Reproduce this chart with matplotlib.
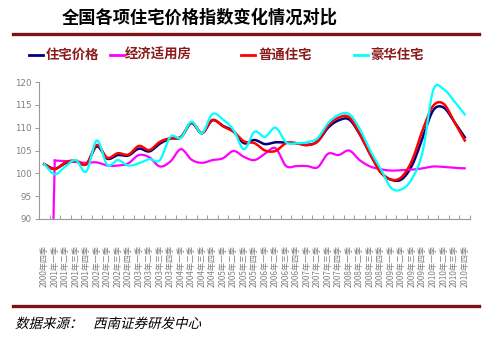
import numpy as np
import matplotlib
matplotlib.use("Agg")
import matplotlib.pyplot as plt
from matplotlib.lines import Line2D
from matplotlib.textpath import TextPath
from matplotlib.patches import PathPatch
from matplotlib.font_manager import FontProperties
from matplotlib.transforms import Affine2D, IdentityTransform

plt.rcParams['font.family'] = ['Noto Sans CJK SC', 'DejaVu Sans']

W, H = 499, 341

# 季度标签：2000年四季 ~ 2010年四季
quarters = ['2000年四季'] + ['%d年%s季' % (y, q) for y in range(2001, 2011) for q in '一二三四']

zhuzhai = [102.0, 101.0, 102.2, 102.6, 102.0, 105.9, 103.2, 104.0, 103.9, 105.4,
           104.8, 106.5, 107.6, 107.9, 111.0, 108.8, 111.6, 110.4, 109.2, 106.6,
           107.3, 106.4, 106.8, 106.7, 106.6, 106.2, 107.0, 110.0, 111.6, 111.8,
           108.6, 104.2, 100.3, 98.6, 98.7, 101.8, 107.8, 113.8, 114.4, 111.3,
           107.9]
jingji = [0.0, 102.8, 102.7, 102.5, 102.3, 102.4, 101.7, 101.7, 102.2, 104.0,
          103.5, 101.5, 102.6, 105.3, 103.0, 102.3, 102.9, 103.3, 104.9, 103.6,
          102.9, 104.3, 105.5, 101.6, 101.6, 101.6, 101.3, 104.3, 104.0, 105.0,
          102.9, 101.5, 100.9, 100.6, 100.7, 100.8, 101.1, 101.5, 101.4, 101.2,
          101.1]
putong = [102.0, 100.9, 102.4, 102.8, 102.0, 106.2, 103.4, 104.4, 104.1, 106.0,
          105.1, 106.9, 107.7, 108.0, 111.1, 108.8, 111.7, 110.3, 109.1, 107.0,
          106.6, 105.0, 104.9, 106.6, 106.6, 106.2, 107.0, 110.4, 112.2, 112.3,
          108.7, 104.2, 100.2, 98.6, 99.2, 102.9, 109.5, 114.8, 115.2, 111.3,
          107.2]
haohua = [102.0, 99.8, 101.5, 102.9, 100.4, 107.2, 101.8, 102.9, 101.7, 102.2,
          103.1, 102.9, 108.0, 107.8, 111.3, 108.8, 113.0, 111.8, 109.5, 105.3,
          109.1, 108.0, 110.0, 106.8, 106.6, 106.8, 107.7, 111.0, 112.8, 113.0,
          109.8, 105.0, 101.0, 96.8, 96.5, 98.9, 104.8, 118.2, 118.4, 115.8,
          112.9]

names = ['住宅价格', '经济适用房', '普通住宅', '豪华住宅']
colors = ['#000080', '#FF00FF', '#FF0000', '#00FFFF']
dark_red = '#7A1315'


def smooth(x0, y, n=16):
    # Catmull-Rom 平滑曲线
    y = np.asarray(y, float)
    p = np.concatenate([[2 * y[0] - y[1]], y, [2 * y[-1] - y[-2]]])
    t = np.linspace(0, 1, n, endpoint=False)
    h00 = 2 * t**3 - 3 * t**2 + 1
    h10 = t**3 - 2 * t**2 + t
    h01 = -2 * t**3 + 3 * t**2
    h11 = t**3 - t**2
    xs, ys = [], []
    for i in range(len(y) - 1):
        p0, p1, p2, p3 = p[i:i + 4]
        m1 = (p2 - p0) / 2
        m2 = (p3 - p1) / 2
        xs.append(x0 + i + t)
        ys.append(h00 * p1 + h10 * m1 + h01 * p2 + h11 * m2)
    xs.append([x0 + len(y) - 1])
    ys.append([y[-1]])
    return np.concatenate(xs), np.concatenate(ys)


def fx(x):
    return x / W


def fy(y):
    return 1 - y / H


fig = plt.figure(figsize=(W / 100, H / 100), dpi=100)
fig.patch.set_facecolor('white')

ax = fig.add_axes([fx(39), fy(219), fx(470) - fx(39), fy(82) - fy(219)])

# 住宅价格
xs, ys = smooth(0, zhuzhai)
ax.plot(xs, ys, color=colors[0], lw=1.8)
# 经济适用房：首个季度为0，单独画直线
ax.plot([0, 1], jingji[:2], color=colors[1], lw=1.6)
xs, ys = smooth(1, jingji[1:])
ax.plot(xs, ys, color=colors[1], lw=1.6)
# 普通住宅
xs, ys = smooth(0, putong)
ax.plot(xs, ys, color=colors[2], lw=1.8)
# 豪华住宅
xs, ys = smooth(0, haohua)
ax.plot(xs, ys, color=colors[3], lw=1.6)

ax.set_xlim(-0.5, 40.5)
ax.set_ylim(90, 120)
ax.set_yticks(range(90, 121, 5))
for s in ['top', 'right']:
    ax.spines[s].set_visible(False)
for s in ['left', 'bottom']:
    ax.spines[s].set_color('#9a9a9a')
    ax.spines[s].set_linewidth(0.8)

ax.set_xticks(np.arange(-0.5, 41, 1))
ax.set_xticklabels([])
ax.tick_params(axis='x', which='major', direction='in', length=3, color='#9a9a9a', width=0.7)
ax.set_xticks(range(41), minor=True)
ax.set_xticklabels(quarters, minor=True, rotation=90, fontsize=5.8, color='#808080')
ax.tick_params(axis='x', which='minor', length=0, pad=19)
ax.tick_params(axis='y', direction='out', length=3, color='#9a9a9a', width=0.7,
               labelsize=6.3, labelcolor='#808080', pad=2)
for lab in ax.get_yticklabels():
    lab.set_family(['Liberation Sans Narrow', 'DejaVu Sans'])

# 标题和上下分隔线
fig.text(fx(62), fy(18), '全国各项住宅价格指数变化情况对比', fontsize=12.4,
         fontweight='bold', ha='left', va='center', color='black')
fig.add_artist(Line2D([fx(13), fx(479)], [fy(34), fy(34)], color=dark_red, lw=2.4))
fig.add_artist(Line2D([fx(13), fx(479)], [fy(306), fy(306)], color=dark_red, lw=2.4))

# 图例
legend_pos = [(29, 46), (110, 125), (241, 258), (354, 370)]
for (lx, tx), name, c in zip(legend_pos, names, colors):
    fig.add_artist(Line2D([fx(lx), fx(lx + 14)], [fy(55), fy(55)], color=c, lw=2.0))
    fig.text(fx(tx), fy(55), name, fontsize=9.6, fontweight='bold', color='#8B1A1A',
             ha='left', va='center')

# 数据来源（斜体）
fp = FontProperties(family='Noto Sans CJK SC')
for x0, s in [(15, '数据来源：'), (93, '西南证券研发中心')]:
    path = TextPath((0, 0), s, prop=fp, size=13.5)
    tr = Affine2D().skew_deg(14, 0).translate(x0, H - 328)
    fig.add_artist(PathPatch(tr.transform_path(path), transform=IdentityTransform(),
                             facecolor='black', edgecolor='none'))

fig.savefig('out.png', dpi=100, facecolor='white')
